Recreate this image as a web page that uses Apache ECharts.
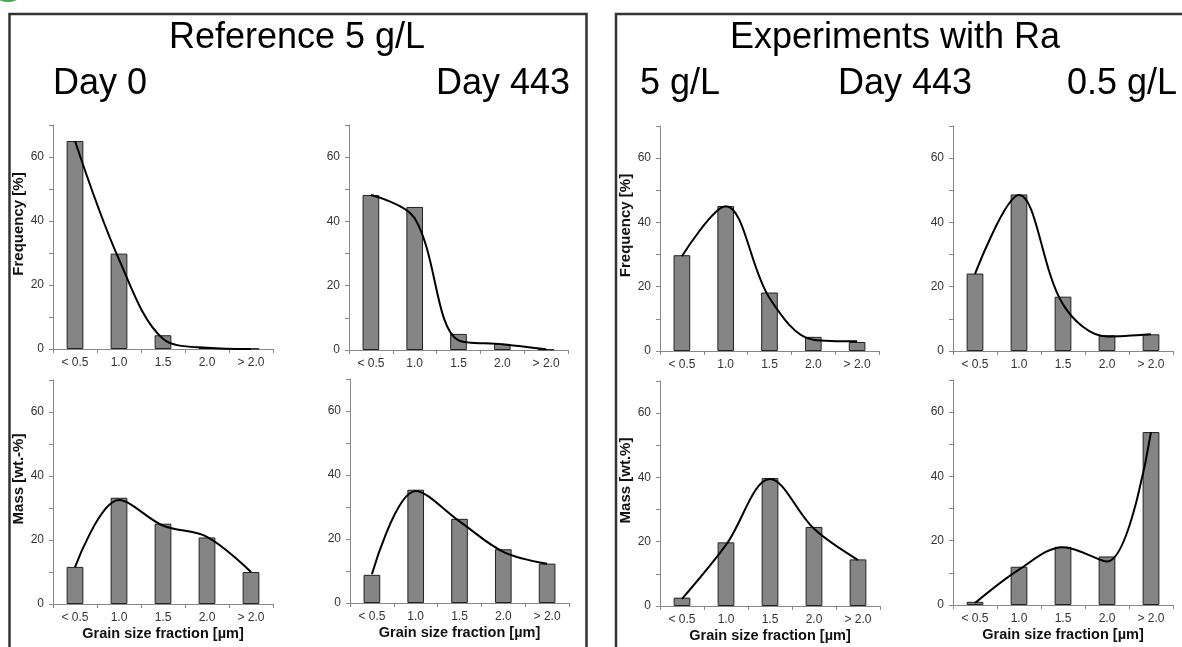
<!DOCTYPE html>
<html>
<head>
<meta charset="utf-8">
<script src="https://cdn.jsdelivr.net/npm/echarts@6/dist/echarts.min.js"></script>
<style>
  html, body { margin: 0; padding: 0; background: #fff; }
  #chart { width: 1182px; height: 647px; }
</style>
</head>
<body>
<div id="chart"></div>
<script>
const categories = ['< 0.5', '1.0', '1.5', '2.0', '> 2.0'];

// reference 5 g/L
const refDay0Freq = [65, 29.8, 4.3, 0.4, 0.1];
const refDay0FreqFit = [65, 28, 3.2, 0.4, 0];
const refDay443Freq = [48.2, 44.5, 5, 1.9, 0.2];
const refDay443FreqFit = [48.2, 41, 3, 1.8, 0.2];
const refDay0Mass = [11.6, 33.2, 25.1, 20.8, 10];
const refDay0MassFit = [11.5, 32.5, 24.5, 21, 10];
const refDay443Mass = [8.8, 35.4, 26.3, 16.8, 12.3];
const refDay443MassFit = [9, 35, 25.5, 16, 12.3];

// experiments with Ra, day 443
const ra5Freq = [29.8, 45.1, 18.2, 4.4, 2.8];
const ra5FreqFit = [29.5, 45, 16.5, 3.5, 3];
const ra05Freq = [24.1, 48.7, 16.9, 4.9, 5.2];
const ra05FreqFit = [24, 48.5, 14.5, 4.5, 5.2];
const ra5Mass = [2.6, 19.8, 39.8, 24.6, 14.5];
const ra5MassFit = [2.2, 19, 39.5, 24, 14.3];
const ra05Mass = [1, 11.9, 18.1, 15.1, 53.8];
const ra05MassFit = [0.6, 11, 18, 13.5, 53.8];

const FONT = '"Liberation Sans", Arial, sans-serif';

const panels = [
  { box: [53, 125, 220, 224], bars: refDay0Freq, fit: refDay0FreqFit, yName: 'Frequency [%]' },
  { box: [349, 125, 219, 225], bars: refDay443Freq, fit: refDay443FreqFit },
  { box: [53, 380, 220, 224], bars: refDay0Mass, fit: refDay0MassFit, yName: 'Mass [wt.-%]', xName: 'Grain size fraction [µm]' },
  { box: [350, 379, 219, 224], bars: refDay443Mass, fit: refDay443MassFit, xName: 'Grain size fraction [µm]' },
  { box: [660, 126, 219, 225], bars: ra5Freq, fit: ra5FreqFit, yName: 'Frequency [%]' },
  { box: [953, 126, 220, 225], bars: ra05Freq, fit: ra05FreqFit },
  { box: [660, 381, 220, 225], bars: ra5Mass, fit: ra5MassFit, yName: 'Mass [wt.%]', xName: 'Grain size fraction [µm]' },
  { box: [953, 380, 220, 225], bars: ra05Mass, fit: ra05MassFit, xName: 'Grain size fraction [µm]' }
];

const grid = [], xAxis = [], yAxis = [], series = [];
panels.forEach((p, i) => {
  grid.push({ left: p.box[0], top: p.box[1], width: p.box[2], height: p.box[3] });
  xAxis.push({
    type: 'category',
    gridIndex: i,
    data: categories,
    name: p.xName || '',
    nameLocation: 'middle',
    nameGap: 22,
    nameTextStyle: { fontFamily: FONT, fontSize: 14.5, fontWeight: 'bold', color: '#111', verticalAlign: 'top' },
    axisLine: { lineStyle: { color: '#888', width: 1 } },
    axisTick: { show: true, length: 4, lineStyle: { color: '#888' } },
    axisLabel: { fontFamily: FONT, fontSize: 12, color: '#333', margin: 8 },
    splitLine: { show: false }
  });
  yAxis.push({
    type: 'value',
    gridIndex: i,
    min: 0,
    max: 70,
    interval: 10,
    name: p.yName || '',
    nameLocation: 'middle',
    nameGap: 25,
    nameTextStyle: { fontFamily: FONT, fontSize: 15, fontWeight: 'bold', color: '#111', padding: [0, 0, 0, 26] },
    axisLine: { show: true, lineStyle: { color: '#888', width: 1 } },
    axisTick: { show: true, length: 4, lineStyle: { color: '#888' } },
    axisLabel: {
      fontFamily: FONT, fontSize: 12, color: '#333', margin: 9,
      formatter: v => (v % 20 === 0 ? v : '')
    },
    splitLine: { show: false }
  });
  series.push({
    type: 'bar',
    xAxisIndex: i,
    yAxisIndex: i,
    data: p.bars,
    barWidth: '38%',
    itemStyle: { color: '#858585', borderColor: '#222', borderWidth: 1 },
    silent: true
  });
  series.push({
    type: 'line',
    xAxisIndex: i,
    yAxisIndex: i,
    data: p.fit,
    smooth: 0.35,
    showSymbol: false,
    lineStyle: { color: '#000', width: 2 },
    z: 5,
    silent: true
  });
});

const title = (text, x, y, align) => ({
  type: 'text',
  x: x, y: y,
  style: { text: text, font: '36px ' + FONT, fill: '#000', textAlign: align, textVerticalAlign: 'middle' }
});

const chart = echarts.init(document.getElementById('chart'), null, { renderer: 'canvas' });
chart.setOption({
  backgroundColor: '#fff',
  animation: false,
  grid: grid,
  xAxis: xAxis,
  yAxis: yAxis,
  series: series,
  graphic: [
    { type: 'circle', shape: { cx: 8, cy: -18, r: 20 }, style: { fill: '#3cb043' } },
    { type: 'rect', shape: { x: 9.5, y: 14, width: 577, height: 700 }, style: { fill: 'none', stroke: '#333', lineWidth: 2.5 } },
    { type: 'rect', shape: { x: 616, y: 14, width: 620, height: 700 }, style: { fill: 'none', stroke: '#333', lineWidth: 2.5 } },
    title('Reference 5 g/L', 297, 38, 'center'),
    title('Day 0', 53, 84, 'left'),
    title('Day 443', 570, 84, 'right'),
    title('Experiments with Ra', 895, 38, 'center'),
    title('5 g/L', 640, 84, 'left'),
    title('Day 443', 905, 84, 'center'),
    title('0.5 g/L', 1177, 84, 'right')
  ]
});
</script>
</body>
</html>
